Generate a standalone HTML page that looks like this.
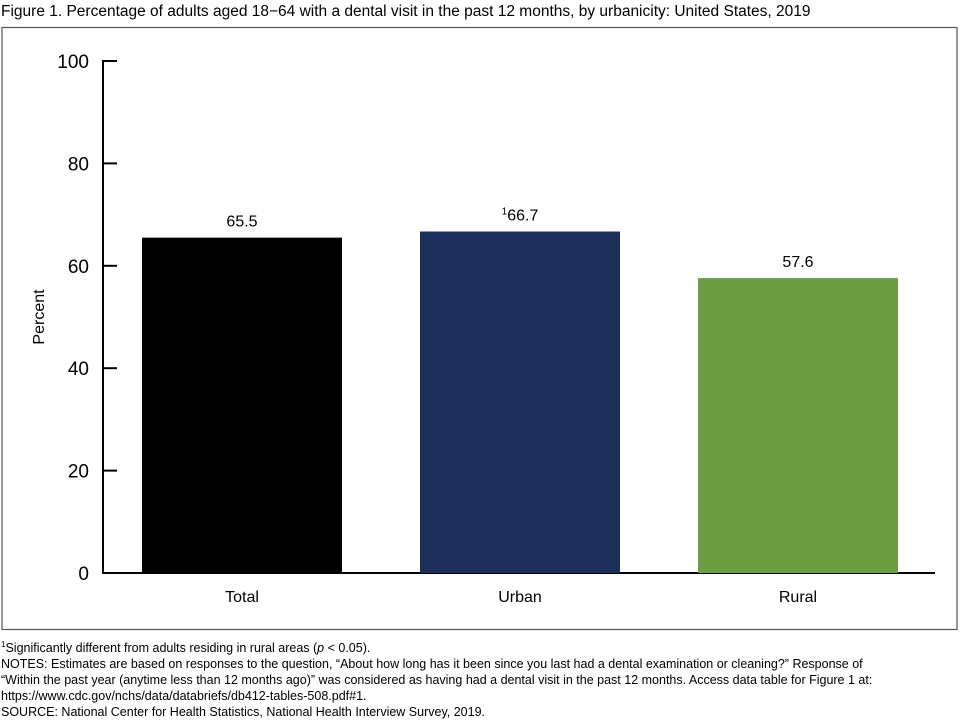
<!DOCTYPE html>
<html><head><meta charset="utf-8"><style>
body{margin:0;width:960px;height:720px;background:#fff;font-family:"Liberation Sans",Arial,sans-serif;overflow:hidden}
svg{display:block}
</style></head><body>
<svg id="chart" width="960" height="720" font-family="Liberation Sans, Arial, sans-serif">
<text x="1" y="16" font-size="15.5" fill="#000">Figure 1. Percentage of adults aged 18−64 with a dental visit in the past 12 months, by urbanicity: United States, 2019</text>
<rect x="2" y="27.5" width="955" height="602" fill="none" stroke="#555" stroke-width="1.2"/>
<g id="yaxis"></g>
<g id="bars"></g>
<text transform="translate(44,317) rotate(-90)" text-anchor="middle" font-size="16">Percent</text>
<g font-size="12.5" fill="#000">
<text x="1" y="652"><tspan font-size="8" dy="-5">1</tspan><tspan dy="5">Significantly different from adults residing in rural areas (</tspan><tspan font-style="italic">p</tspan> &lt; 0.05).</text>
<text x="1" y="668">NOTES: Estimates are based on responses to the question, “About how long has it been since you last had a dental examination or cleaning?” Response of</text>
<text x="1" y="684">“Within the past year (anytime less than 12 months ago)” was considered as having had a dental visit in the past 12 months. Access data table for Figure 1 at:</text>
<text x="1" y="700">https://www.cdc.gov/nchs/data/databriefs/db412-tables-508.pdf#1.</text>
<text x="1" y="716">SOURCE: National Center for Health Statistics, National Health Interview Survey, 2019.</text>
</g>
</svg>
<script>
const categories = ["Total", "Urban", "Rural"];
const values = [65.5, 66.7, 57.6];
const valueLabels = ["65.5", "66.7", "57.6"];
const superscripts = ["", "1", ""];
const colors = ["#000000", "#1c2e59", "#6b9e42"];
const yTicks = [0, 20, 40, 60, 80, 100];

const NS = "http://www.w3.org/2000/svg";
const x0 = 103, yBase = 573, yTop = 61, yMax = 100;
const y = v => yBase - (v / yMax) * (yBase - yTop);
const step = 278, barW = 200, firstLeft = 142;
const xLeft = i => firstLeft + i * step;
function mk(tag, attrs, parent){ const e=document.createElementNS(NS,tag); for(const k in attrs) e.setAttribute(k,attrs[k]); parent.appendChild(e); return e; }

const ya = document.getElementById('yaxis');
const barsG = document.getElementById('bars');
yTicks.forEach(t => {
  const tk = mk('line',{x1:x0,x2:x0+14,y1:y(t),y2:y(t),stroke:'#000','stroke-width':2},ya);
  
  
  const lb = mk('text',{x:89,y:y(t)+7,'text-anchor':'end','font-size':19},ya);
  lb.textContent = t;
  
  
});
categories.forEach((c,i) => {
  const r = mk('rect',{x:xLeft(i),y:y(values[i]),width:barW,height:yBase-y(values[i]),fill:colors[i]},barsG);
  
  
  const cx = xLeft(i)+barW/2;
  const vl = mk('text',{x:cx,y:y(values[i])-11,'text-anchor':'middle','font-size':16},barsG);
  if (superscripts[i]) { const s = mk('tspan',{'font-size':10,dy:-6},vl); s.textContent = superscripts[i]; const t2 = mk('tspan',{dy:6},vl); t2.textContent = valueLabels[i]; }
  else vl.textContent = valueLabels[i];
  
  
  const cl = mk('text',{x:cx,y:602,'text-anchor':'middle','font-size':16},barsG);
  cl.textContent = c;
  
  
});
const yl = mk('line',{x1:x0,x2:x0,y1:yTop-1,y2:yBase+1,stroke:'#000','stroke-width':2},ya);


const xl = mk('line',{x1:x0-1,x2:935,y1:yBase,y2:yBase,stroke:'#000','stroke-width':2},ya);


</script>
</body></html>
